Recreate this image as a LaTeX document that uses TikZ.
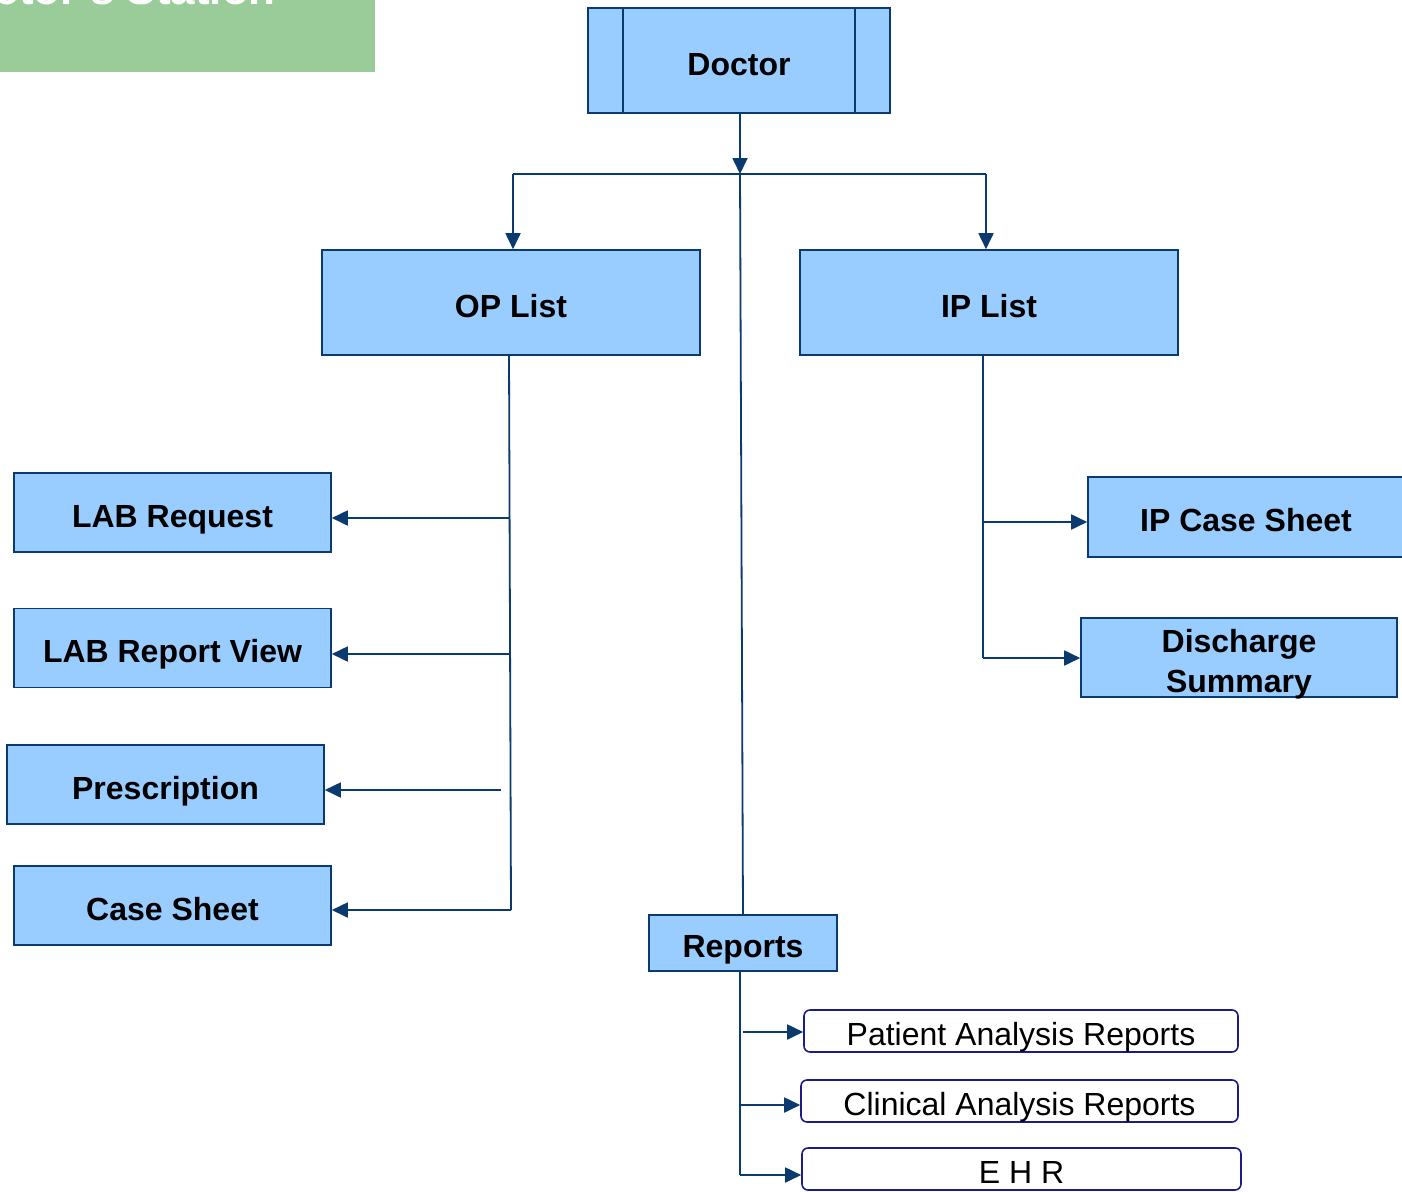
\documentclass[tikz,border=0pt]{standalone}
\usepackage{fontspec}
\setmainfont{Liberation Sans}
\usetikzlibrary{arrows.meta}
\definecolor{boxfill}{HTML}{99CCFF}
\definecolor{navy}{HTML}{0B3A6E}
\definecolor{rptedge}{HTML}{1C1C86}
\definecolor{banner}{HTML}{99CC99}
\begin{document}
\begin{tikzpicture}[x=1pt,y=-1pt,
  box/.style={draw=navy,line width=1.6pt,fill=boxfill,inner sep=0pt,
    font=\fontsize{32}{36}\selectfont\bfseries,align=center,
    text height=29pt,text depth=0pt},
  rpt/.style={draw=rptedge,line width=1.6pt,rounded corners=6pt,fill=white,inner sep=0pt,
    font=\fontsize{32}{36}\selectfont,text height=28pt,text depth=0pt},
  link/.style={draw=navy,line width=1.8pt},
  arr/.style={link,-{Triangle[length=16pt,width=15pt]}}]
\useasboundingbox (0,0) rectangle (1402,1191);
\clip (0,0) rectangle (1402,1191);

% title banner
\fill[banner] (0,-10) rectangle (375,72);
\node[anchor=base east,text=white,font=\fontsize{44}{48}\selectfont\bfseries,inner sep=0pt]
  (title) at (276,5) {Doctor's Station};

% main boxes
\node[box,minimum width=302pt,minimum height=105pt] (doc) at (739,60.5) {Doctor};
\draw[navy,line width=1.6pt] (623,8) -- (623,113) (855,8) -- (855,113);
\node[box,minimum width=378pt,minimum height=105pt] (op) at (511,302.5) {OP List};
\node[box,minimum width=378pt,minimum height=105pt] (ip) at (989,302.5) {IP List};

% OP branch
\node[box,minimum width=317pt,minimum height=79pt] (labreq) at (172.5,512.5) {LAB Request};
\node[box,minimum width=317pt,minimum height=79pt] (labview) at (172.5,648) {LAB Report View};
\node[box,minimum width=317pt,minimum height=79pt] (presc) at (165.5,784.5) {Prescription};
\node[box,minimum width=317pt,minimum height=79pt] (case) at (172.5,905.5) {Case Sheet};

% IP branch
\node[box,minimum width=316pt,minimum height=80pt] (ipcase) at (1246,517) {IP Case Sheet};
\node[box,minimum width=316pt,minimum height=79pt,text height=69pt,text depth=0pt]
  (dis) at (1239,657.5) {Discharge\\[4pt]Summary};

% reports
\node[box,minimum width=188pt,minimum height=56pt] (rep) at (743,943) {Reports};
\node[rpt,minimum width=434pt,minimum height=42pt] (par) at (1021,1031) {Patient Analysis Reports};
\node[rpt,minimum width=437pt,minimum height=42pt] (car) at (1019.5,1101) {Clinical Analysis Reports};
\node[rpt,minimum width=439pt,minimum height=42pt] (ehr) at (1021.5,1169) {E H R};

% junction points
\coordinate (hub) at (740,174);
\coordinate (hl) at (513,174);
\coordinate (hr) at (986,174);
\coordinate (optop) at (509,355);
\coordinate (opbot) at (511,910);
\coordinate (o1) at (509,518);
\coordinate (o2) at (509,654);
\coordinate (o3) at (501,790);
\coordinate (iptop) at (983,355);
\coordinate (i1) at (983,522);
\coordinate (i2) at (983,658);
\coordinate (rtop) at (740,971);
\coordinate (r1) at (743,1032);
\coordinate (r2) at (740,1105);
\coordinate (r3) at (740,1175);

% connectors from Doctor
\draw[arr] (doc.south -| hub) -- (hub);
\draw[link] (hl) -- (hr);
\draw[arr] (hl) -- (hl |- op.north);
\draw[arr] (hr) -- (hr |- ip.north);
\draw[link] (hub) -- (743,915);

% OP list connectors
\draw[link] (optop) -- (opbot);
\draw[arr] (o1) -- (o1 -| labreq.east);
\draw[arr] (o2) -- (o2 -| labview.east);
\draw[arr] (o3) -- (o3 -| presc.east);
\draw[arr] (opbot) -- (opbot -| case.east);

% IP list connectors
\draw[link] (iptop) -- (i2);
\draw[arr] (i1) -- (i1 -| ipcase.west);
\draw[arr] (i2) -- (i2 -| dis.west);

% report connectors
\draw[link] (rtop) -- (r3);
\draw[arr] (r1) -- (r1 -| par.west);
\draw[arr] (r2) -- (r2 -| car.west);
\draw[arr] (r3) -- (r3 -| ehr.west);
\end{tikzpicture}
\end{document}
